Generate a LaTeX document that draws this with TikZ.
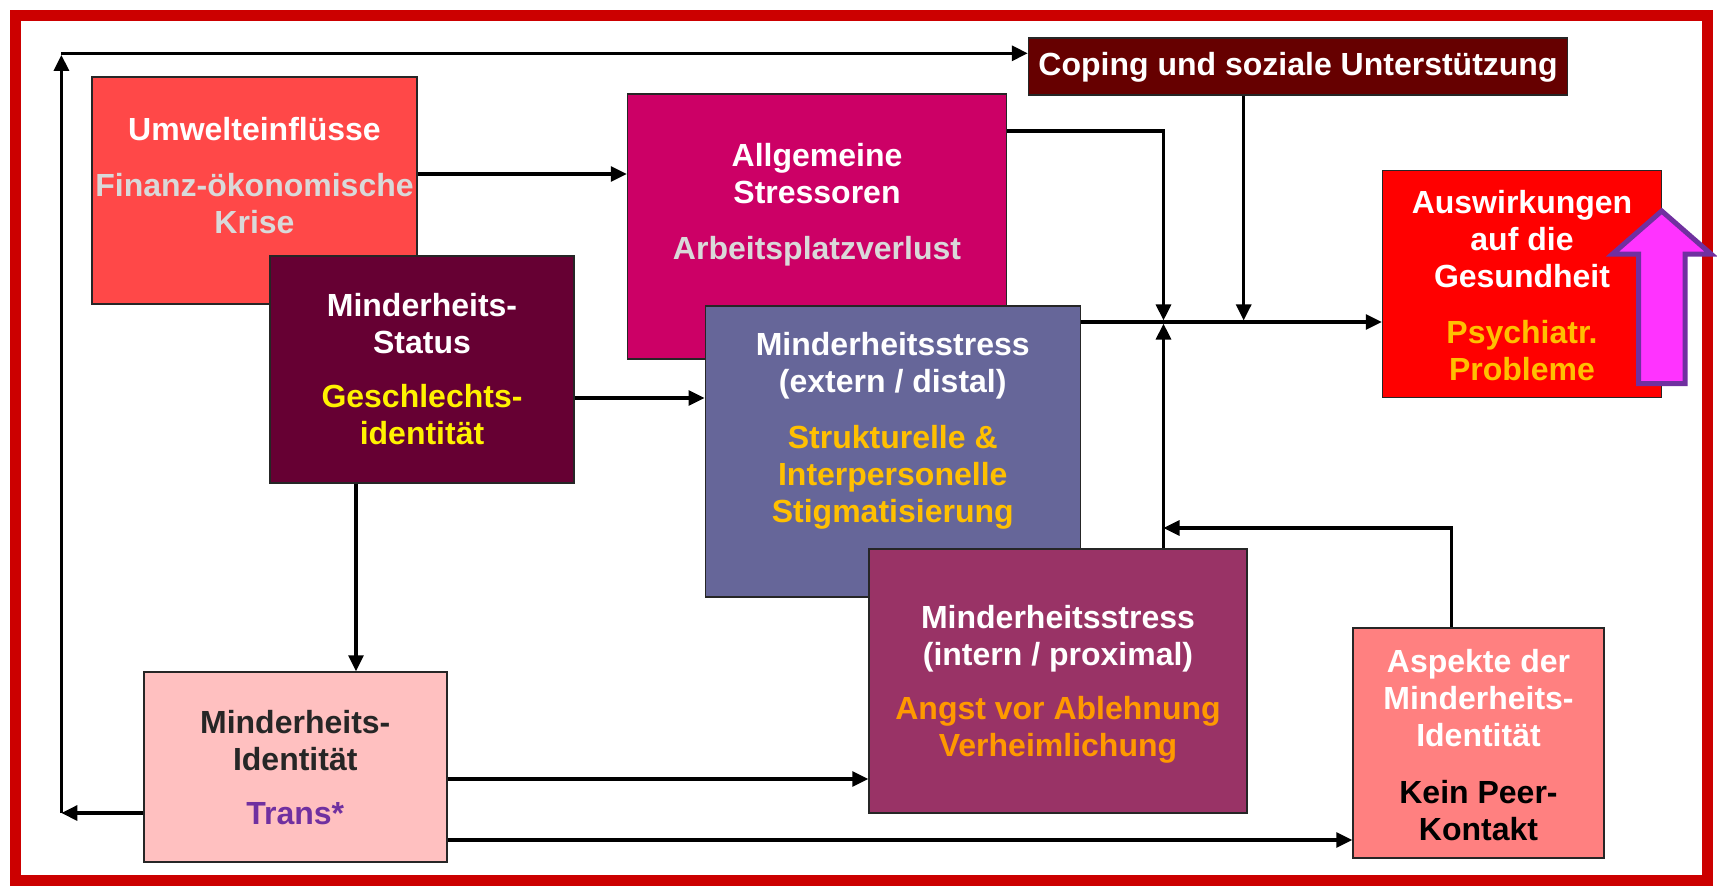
\documentclass[tikz,border=0pt]{standalone}
\usepackage{fontspec}
\setmainfont{Liberation Sans}
\usetikzlibrary{arrows.meta}

\definecolor{framered}{HTML}{CC0000}
\definecolor{umweltrot}{HTML}{FF4848}
\definecolor{allgrot}{HTML}{CC0066}
\definecolor{statusrot}{HTML}{660033}
\definecolor{externblau}{HTML}{666699}
\definecolor{internrot}{HTML}{993366}
\definecolor{identrosa}{HTML}{FFC0C0}
\definecolor{aspektrosa}{HTML}{FF8080}
\definecolor{copingrot}{HTML}{660000}
\definecolor{auswrot}{HTML}{FF0000}
\definecolor{hellgrau}{HTML}{D9D9D9}
\definecolor{goldgelb}{HTML}{FFC000}
\definecolor{orangetext}{HTML}{FF9900}
\definecolor{lila}{HTML}{7030A0}
\definecolor{pinkpfeil}{HTML}{FF33FF}
\definecolor{dunkeltext}{HTML}{262626}

\tikzset{
  box/.style={draw=black!85, line width=1.5pt, rectangle, inner sep=0pt},
  txt/.style={align=center, inner sep=0pt, font=\fontsize{32}{37}\selectfont\bfseries},
  arr/.style={line width=3.2pt, -{Triangle[length=16pt,width=15pt]}}
}

\begin{document}
\begin{tikzpicture}[x=1pt,y=-1pt]
  \useasboundingbox (0,0) rectangle (1717,887);
  \fill[white] (0,0) rectangle (1717,887);
  \draw[framered, line width=11pt] (15,15) rectangle (1707,880);

  % boxes
  \node[box, fill=umweltrot, minimum width=325pt, minimum height=227pt] (umwelt) at (254.5,190.5) {};
  \node[txt, text=white] (umwelttext) at (254.5,176) {Umwelteinflüsse\\[19pt]\textcolor{hellgrau}{Finanz-ökonomische}\\\textcolor{hellgrau}{Krise}};

  \node[box, fill=allgrot, minimum width=379pt, minimum height=265pt] (allg) at (817,226.5) {};
  \node[txt, text=white] (allgtext) at (817,205) {Allgemeine\\Stressoren\\[19pt]\textcolor{hellgrau}{Arbeitsplatzverlust}};

  \node[box, fill=copingrot, minimum width=539pt, minimum height=57pt] (coping) at (1298,66.4) {};
  \node[txt, text=white] (copingtext) at (1298,67) {Coping und soziale Unterstützung};

  \node[box, fill=auswrot, minimum width=279pt, minimum height=227pt] (ausw) at (1522,284) {};
  \node[txt, text=white] (auswtext) at (1522,286) {Auswirkungen\\auf die\\Gesundheit\\[19pt]\textcolor{goldgelb}{Psychiatr.}\\\textcolor{goldgelb}{Probleme}};

  \node[box, fill=statusrot, minimum width=304pt, minimum height=227pt] (status) at (422,369.5) {};
  \node[txt, text=white] (statustext) at (422,369) {Minderheits-\\Status\\[17pt]\textcolor{yellow}{Geschlechts-}\\\textcolor{yellow}{identität}};

  \node[box, fill=externblau, minimum width=375pt, minimum height=291pt] (extern) at (892.75,451.5) {};
  \node[txt, text=white] (externtext) at (892.75,431) {Minderheitsstress\\(extern / distal)\\[19pt]\textcolor{goldgelb}{Strukturelle \&}\\\textcolor{goldgelb}{Interpersonelle}\\\textcolor{goldgelb}{Stigmatisierung}};

  \node[box, fill=internrot, minimum width=378pt, minimum height=264pt] (intern) at (1058,681) {};
  \node[txt, text=white] (interntext) at (1058,684) {Minderheitsstress\\(intern / proximal)\\[17pt]\textcolor{orangetext}{Angst vor Ablehnung}\\\textcolor{orangetext}{Verheimlichung}};

  \node[box, fill=identrosa, minimum width=303pt, minimum height=190pt] (ident) at (295.25,767) {};
  \node[txt, text=dunkeltext] (identtext) at (295.25,767.5) {Minderheits-\\Identität\\[17pt]\textcolor{lila}{Trans*}};

  \node[box, fill=aspektrosa, minimum width=251pt, minimum height=230pt] (aspekte) at (1478.5,743) {};
  \node[txt, text=white] (aspektetext) at (1478.5,745) {Aspekte der\\Minderheits-\\Identität\\[20pt]\textcolor{black}{Kein Peer-}\\\textcolor{black}{Kontakt}};

  % connectors
  \coordinate (cl) at (61.4,53.3);
  \coordinate (junc) at (1163.5,322);
  \coordinate (fb) at (1163.5,528);

  \coordinate (u1) at ([yshift=16.5pt]umwelt.east);
  \draw[arr] (u1) -- (u1 -| allg.west);

  \coordinate (a1) at ([yshift=95.5pt]allg.east);
  \draw[arr, shorten >=1.6pt] (a1) -| (junc);

  \coordinate (c1) at ([xshift=-54.3pt]coping.south);
  \draw[arr, shorten >=1.6pt] (c1) -- (c1 |- junc);

  \draw[arr] (extern.east |- junc) -- (ausw.west |- junc);
  \draw[arr, shorten >=1.6pt] (intern.north -| junc) -- (junc);

  \coordinate (k1) at ([xshift=-27pt]aspekte.north);
  \draw[arr] (k1) |- (fb);

  \coordinate (s1) at ([yshift=-28.5pt]status.east);
  \draw[arr] (s1) -- (s1 -| extern.west);
  \coordinate (s2) at ([xshift=-66pt]status.south);
  \draw[arr] (s2) -- (s2 |- ident.north);

  \coordinate (i1) at ([yshift=-12pt]ident.east);
  \draw[arr] (i1) -- (i1 -| intern.west);
  \coordinate (i2) at ([yshift=-73pt]ident.east);
  \draw[arr] (i2) -- (i2 -| aspekte.west);
  \coordinate (i3) at ([yshift=-46pt]ident.west);
  \draw[arr] (i3) -- (i3 -| cl);
  \draw[arr, shorten >=1.6pt] (i3 -| cl) -- (cl);
  \draw[arr] (cl) -- (cl -| coping.west);

  % block arrow
  \draw[lila, line width=5pt, fill=pinkpfeil] (1661.7,211) -- (1711,254) -- (1685,254) -- (1685,383.5)
    -- (1638.5,383.5) -- (1638.5,254) -- (1612.5,254) -- cycle;
\end{tikzpicture}
\end{document}
